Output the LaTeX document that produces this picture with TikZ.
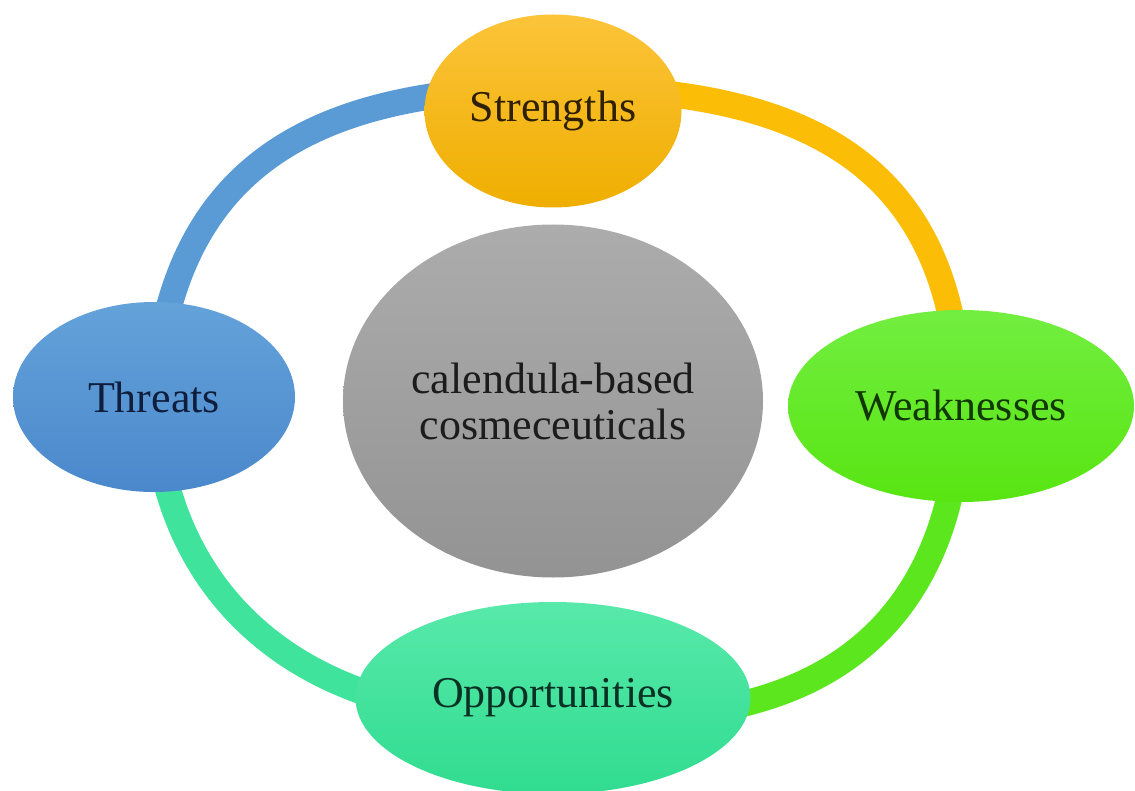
\documentclass[tikz,border=0pt]{standalone}
\usepackage{fontspec}
\setmainfont{Liberation Serif}
\usetikzlibrary{shapes.geometric,calc}
\pgfdeclarelayer{background}
\pgfsetlayers{background,main}
\definecolor{ringblue}{HTML}{5B9BD5}
\definecolor{ringorange}{HTML}{FCBD06}
\definecolor{ringgreen}{HTML}{5CE61E}
\definecolor{ringteal}{HTML}{3FE39B}
\definecolor{sTop}{HTML}{FCC43A}
\definecolor{sBot}{HTML}{EFAE00}
\definecolor{sText}{HTML}{2E2000}
\definecolor{tTop}{HTML}{64A2DA}
\definecolor{tBot}{HTML}{4A88CC}
\definecolor{tText}{HTML}{0E1E3C}
\definecolor{wTop}{HTML}{72EE40}
\definecolor{wBot}{HTML}{58E512}
\definecolor{wText}{HTML}{103800}
\definecolor{oTop}{HTML}{58E9AA}
\definecolor{oBot}{HTML}{30DC90}
\definecolor{oText}{HTML}{0B3024}
\definecolor{gTop}{HTML}{ACACAC}
\definecolor{gBot}{HTML}{939393}
\definecolor{gText}{HTML}{1C1C1C}
\begin{document}
\begin{tikzpicture}[x=0.5pt,y=-0.5pt,
  blob/.style={ellipse, inner sep=0pt, font=\fontsize{22}{23}\selectfont, align=center},
  ring/.style={line width=13pt}]
\useasboundingbox (0,0) rectangle (1135,791);
\node[blob, minimum width=128.5pt, minimum height=96.5pt, top color=sTop, bottom color=sBot, text=sText] (S) at (553,111) {Strengths};
\node[blob, minimum width=141pt, minimum height=95pt, top color=tTop, bottom color=tBot, text=tText] (T) at (154,397) {Threats};
\node[blob, minimum width=173pt, minimum height=96pt, top color=wTop, bottom color=wBot, text=wText] (W) at (961,406) {Weaknesses};
\node[blob, minimum width=197.5pt, minimum height=96pt, top color=oTop, bottom color=oBot, text=oText] (O) at (553,698) {Opportunities};
\node[blob, minimum width=210pt, minimum height=176.5pt, top color=gTop, bottom color=gBot, text=gText] (C) at (553,401) {calendula-based\\cosmeceuticals};
\begin{pgfonlayer}{background}
\draw[ring, draw=ringblue] (T.center) .. controls (170,190) and (282,88) .. ($(S.center)+(0,-23)$);
\draw[ring, draw=ringorange] ($(S.center)+(0,-23)$) .. controls (835,86) and (955,185) .. (W.center);
\draw[ring, draw=ringgreen] (W.center) .. controls (955,590) and (860,735) .. ($(O.center)+(20,17)$);
\draw[ring, draw=ringteal] ($(O.center)+(20,17)$) .. controls (310,735) and (160,600) .. (T.center);
\end{pgfonlayer}
\end{tikzpicture}
\end{document}
